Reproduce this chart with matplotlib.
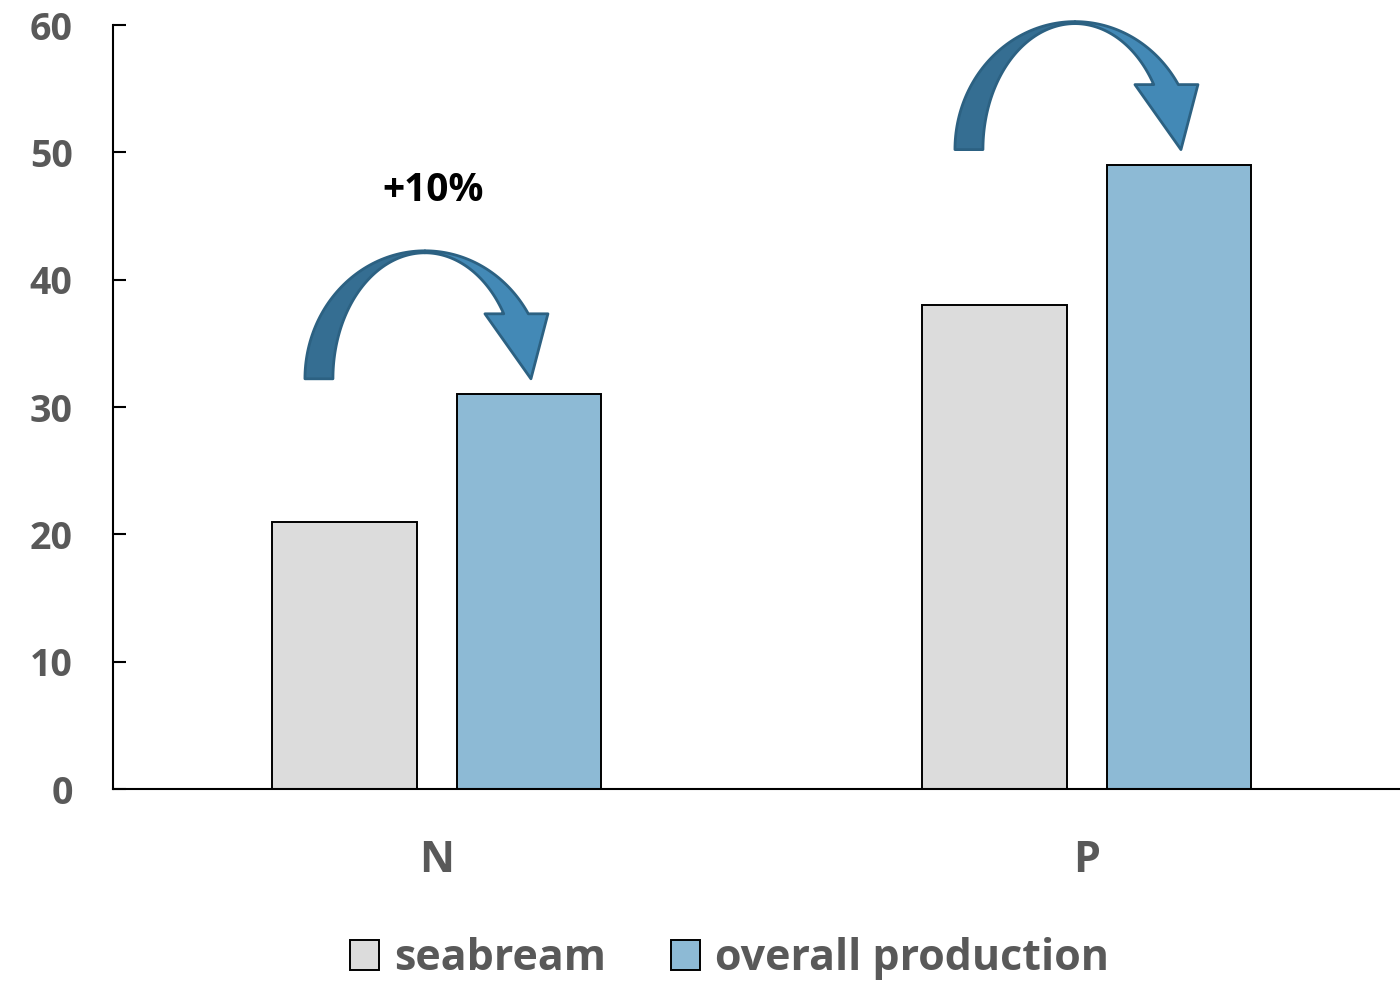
import numpy as np
import matplotlib
matplotlib.use("Agg")
import matplotlib.pyplot as plt
from matplotlib.patches import Polygon, Patch

# --- data ---
categories = ["N", "P"]
seabream = [21, 38]
overall = [31, 49]
series_labels = ["seabream", "overall production"]
yticks = [0, 10, 20, 30, 40, 50, 60]
note_text = "+10%"

plt.rcParams["font.family"] = ["Open Sans", "DejaVu Sans"]
plt.rcParams["font.weight"] = "bold"

GREY = "#595959"
C_SEA = "#DCDCDC"
C_ALL = "#8DBAD5"
ARROW_DARK = "#356E92"
ARROW_LIGHT = "#4389B6"
ARROW_EDGE = "#2C6182"

fig = plt.figure(figsize=(14, 9.82), dpi=100)
ax = fig.add_axes([0.0807, 0.1965, 0.9193, 0.778])

x = np.arange(len(categories))
width = 0.223
offset = 0.142
ax.bar(x - offset, seabream, width, color=C_SEA, edgecolor="black", linewidth=1.4, zorder=2)
ax.bar(x + offset, overall, width, color=C_ALL, edgecolor="black", linewidth=1.4, zorder=2)

ax.set_xlim(-0.498, 1.482)
ax.set_ylim(0, 60)
ax.set_yticks(yticks)
ax.set_xticks(x)
ax.set_xticklabels(categories)

for side in ("top", "right"):
    ax.spines[side].set_visible(False)
for side in ("left", "bottom"):
    ax.spines[side].set_linewidth(1.5)
ax.tick_params(axis="y", direction="in", length=9.5, width=1.5, pad=29,
               labelsize=27, labelcolor=GREY)
ax.tick_params(axis="x", length=0, pad=36, labelsize=31, labelcolor=GREY)
for lab in ax.get_xticklabels() + ax.get_yticklabels():
    lab.set_fontweight("bold")


def ellipse_pts(cx, rx, ry, a0, a1, n=60):
    t = np.linspace(a0, a1, n)
    return np.column_stack([cx + rx * np.cos(t), ry * np.sin(t)])


def curved_arrow(ax, tip_xy):
    """Twisted ribbon arrow, built in pixel offsets from the tip."""
    tx, ty = ax.transData.transform(tip_xy)
    cx = -106.0
    ro, ho = 120.0, 128.0   # outer ellipse
    ri, hi = 92.0, 126.0    # inner ellipse
    base = 65.0
    ao = np.arcsin(base / ho)
    ai = np.arcsin(base / hi)

    # left (dark) half: outer arc up to the top, inner arc back down
    outer_l = ellipse_pts(cx, ro, ho, np.pi, np.pi / 2)
    inner_l = ellipse_pts(cx, ri, hi, np.pi / 2, np.pi)
    left = np.vstack([outer_l, inner_l])

    # right (light) half: outer arc from top down to head base, inner arc back
    outer_r = ellipse_pts(cx, ro, ho, np.pi / 2, ao)
    inner_r = ellipse_pts(cx, ri, hi, ai, np.pi / 2)
    head = np.array([[17.0, base], [0.0, 0.0], [-46.0, base]])
    right = np.vstack([outer_r, head, inner_r])

    inv = ax.transData.inverted()
    for pts, col in ((right, ARROW_LIGHT), (left, ARROW_DARK)):
        data_pts = inv.transform(pts + [tx, ty])
        ax.add_patch(Polygon(data_pts, closed=True, facecolor=col,
                             edgecolor=ARROW_EDGE, linewidth=2.0,
                             joinstyle="round", zorder=3, clip_on=False))


fig.canvas.draw()
px_per_unit = ax.transData.transform((0, 1))[1] - ax.transData.transform((0, 0))[1]
for i, v in enumerate(overall):
    tip_y = v + 15.5 / px_per_unit
    curved_arrow(ax, (x[i] + offset + 0.003, tip_y))

ax.text(x[0] - 0.005, 47.0, note_text, ha="center", va="center", fontsize=28,
        fontweight="bold", color="black")

handles = [Patch(facecolor=C_SEA, edgecolor="black", linewidth=1.4),
           Patch(facecolor=C_ALL, edgecolor="black", linewidth=1.4)]
leg = fig.legend(handles, series_labels, loc="center", bbox_to_anchor=(0.521, 0.024),
                 ncol=2, frameon=False, fontsize=31, handlelength=0.68,
                 handleheight=0.68, handletextpad=0.34, columnspacing=1.5)
for t in leg.get_texts():
    t.set_color(GREY)
    t.set_fontweight("bold")

fig.savefig("out.png", dpi=100)
